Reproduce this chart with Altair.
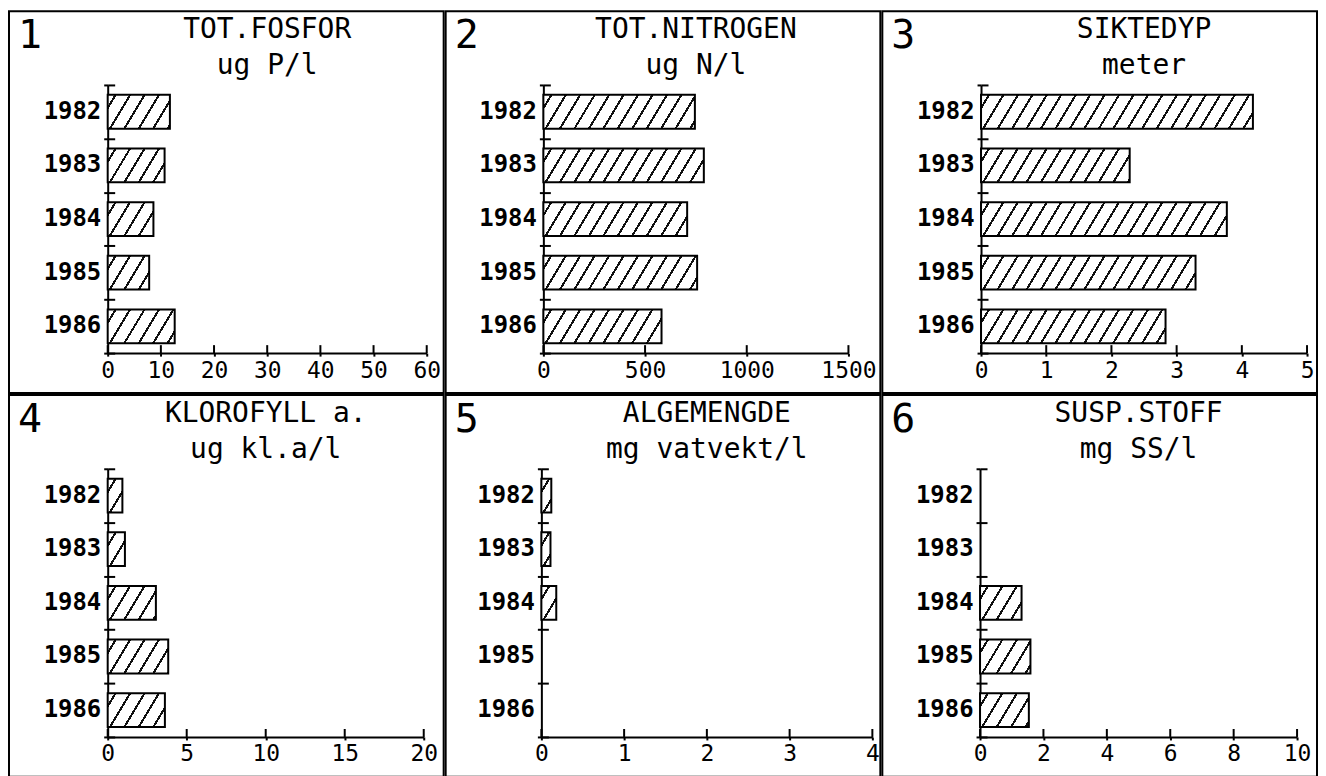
import altair as alt

# ---------------- data ----------------
years = [1982, 1983, 1984, 1985, 1986]
panel_numbers = ["1", "2", "3", "4", "5", "6"]
panel_titles = ["TOT.FOSFOR", "TOT.NITROGEN", "SIKTEDYP",
                "KLOROFYLL a.", "ALGEMENGDE", "SUSP.STOFF"]
panel_units = ["ug P/l", "ug N/l", "meter", "ug kl.a/l", "mg vatvekt/l", "mg SS/l"]
x_max = [60, 1500, 5, 20, 4, 10]
x_ticks = [
    [0, 10, 20, 30, 40, 50, 60],
    [0, 500, 1000, 1500],
    [0, 1, 2, 3, 4, 5],
    [0, 5, 10, 15, 20],
    [0, 1, 2, 3, 4],
    [0, 2, 4, 6, 8, 10],
]

tot_fosfor = [11.7, 10.7, 8.6, 7.8, 12.6]
tot_nitrogen = [745, 789, 707, 756, 581]
siktedyp = [4.17, 2.28, 3.77, 3.29, 2.83]
klorofyll = [0.93, 1.09, 3.05, 3.83, 3.62]
algemengde = [0.12, 0.11, 0.18, None, None]
susp_stoff = [None, None, 1.31, 1.59, 1.54]

series = [tot_fosfor, tot_nitrogen, siktedyp, klorofyll, algemengde, susp_stoff]

# ---------------- layout / style ----------------
FONT = "DejaVu Sans Mono"
PANEL_W = 436
PANEL_H = 383
x_ranges = [(99, 419), (98, 404), (99, 426), (99, 416), (96, 428), (98, 416)]
Y0, Y1 = 74, 343
BAR_FRAC = 0.63
STEP = (Y1 - Y0) / len(years)
BAND_W = STEP * BAR_FRAC


def hatch(w, h, period=14.5, slope=0.6, lw=2.4):
    """Diagonal hatch fill as a hard-stop linear gradient (bbox units)."""
    w = max(w, 0.5)
    total = w + slope * h
    k = total / (w * w + slope * slope * h * h)
    stops = [{"offset": 0, "color": "white"}]
    pos = period * 0.55
    while pos - lw / 2 < total:
        a = round(max(0.0, (pos - lw / 2) / total), 5)
        b = round(min(1.0, (pos + lw / 2) / total), 5)
        stops += [
            {"offset": a, "color": "white"},
            {"offset": a, "color": "#111111"},
            {"offset": b, "color": "#111111"},
            {"offset": b, "color": "white"},
        ]
        pos += period
    stops.append({"offset": 1, "color": "white"})
    return {"gradient": "linear", "x1": 0, "y1": 0,
            "x2": round(k * w, 6), "y2": round(k * slope * h, 6), "stops": stops}


def panel(i):
    r0, r1 = x_ranges[i]
    ppu = (r1 - r0) / x_max[i]
    rows = []
    for yr, v in zip(years, series[i]):
        if v is None:
            continue
        rows.append({"year": str(yr), "value": v, "hatch": hatch(v * ppu, BAND_W)})
    data = alt.Data(values=rows)
    tick_data = alt.Data(values=[{"t": t} for t in x_ticks[i]])

    xscale = alt.Scale(domain=[0, x_max[i]], range=[r0, r1], nice=False, zero=True)
    yscale = alt.Scale(domain=[str(y) for y in years], range=[Y0, Y1],
                       paddingInner=0, paddingOuter=0)

    bars = alt.Chart(data).mark_bar(
        stroke="black", strokeWidth=2, height={"band": BAR_FRAC}
    ).encode(
        x=alt.X("value:Q", scale=xscale, stack=None, title=None,
                axis=alt.Axis(orient="bottom", offset=-(PANEL_H - Y1), values=x_ticks[i],
                              grid=False, ticks=True, tickSize=3, tickWidth=2,
                              tickColor="black", labelPadding=3,
                              domain=True, domainColor="black", domainWidth=2,
                              labelFont=FONT, labelFontSize=23, labelColor="black",
                              labelFlush=False, labelOverlap=False, format="d")),
        y=alt.Y("year:N", scale=yscale, title=None,
                axis=alt.Axis(orient="left", offset=-r0, grid=False, ticks=False,
                              tickSize=0, labelPadding=7,
                              domain=True, domainColor="black", domainWidth=2,
                              labelFont=FONT, labelFontSize=24, labelFontWeight="bold",
                              labelColor="black", labelAngle=0)),
        fill=alt.Fill("hatch:N", scale=None, legend=None),
    )

    # invisible copies that carry the band-boundary ticks of the y axis
    inner_y = alt.Chart(data).mark_bar(opacity=0, height={"band": BAR_FRAC}).encode(
        x=alt.X("value:Q", scale=xscale, stack=None, title=None, axis=None),
        y=alt.Y("year:N", scale=yscale, title=None,
                axis=alt.Axis(orient="right", offset=r0 - PANEL_W, grid=False,
                              labels=False, domain=False, ticks=True, tickSize=7,
                              tickWidth=2, tickColor="black", tickBand="extent")),
    )
    outer_y = alt.Chart(data).mark_bar(opacity=0, height={"band": BAR_FRAC}).encode(
        x=alt.X("value:Q", scale=xscale, stack=None, title=None, axis=None),
        y=alt.Y("year:N", scale=yscale, title=None,
                axis=alt.Axis(orient="left", offset=-r0, grid=False,
                              labels=False, domain=False, ticks=True, tickSize=4,
                              tickWidth=2, tickColor="black", tickBand="extent")),
    )

    # inward-pointing x ticks at the tick values
    inner_x = alt.Chart(tick_data).mark_rule(color="black", strokeWidth=2).encode(
        x=alt.X("t:Q", scale=xscale, title=None, axis=None),
        y=alt.value(Y1 - 8),
        y2=alt.value(Y1),
    )

    num = alt.Chart(alt.Data(values=[{"n": panel_numbers[i]}])).mark_text(
        align="left", baseline="alphabetic", font=FONT, fontSize=40, color="black"
    ).encode(text="n:N", x=alt.value(9), y=alt.value(37))

    ttl = alt.Chart(alt.Data(values=[{"t": [panel_titles[i], panel_units[i]]}])).mark_text(
        align="center", baseline="alphabetic", font=FONT, fontSize=28,
        lineHeight=36, color="black"
    ).encode(text=alt.Text("t:N"), x=alt.value((r0 + r1) / 2), y=alt.value(27))

    return alt.layer(bars, inner_y, outer_y, inner_x, num, ttl).resolve_axis(
        x="independent", y="independent"
    ).properties(width=PANEL_W, height=PANEL_H)


row1 = alt.hconcat(panel(0), panel(1), panel(2), spacing=0)
row2 = alt.hconcat(panel(3), panel(4), panel(5), spacing=0)

chart = alt.vconcat(row1, row2, spacing=0).properties(
    padding={"left": 0, "top": 1, "right": 0, "bottom": 0},
    background="white",
).configure_view(stroke="black", strokeWidth=2)

chart.save("out.html", embed_options={"renderer": "svg", "actions": False})
